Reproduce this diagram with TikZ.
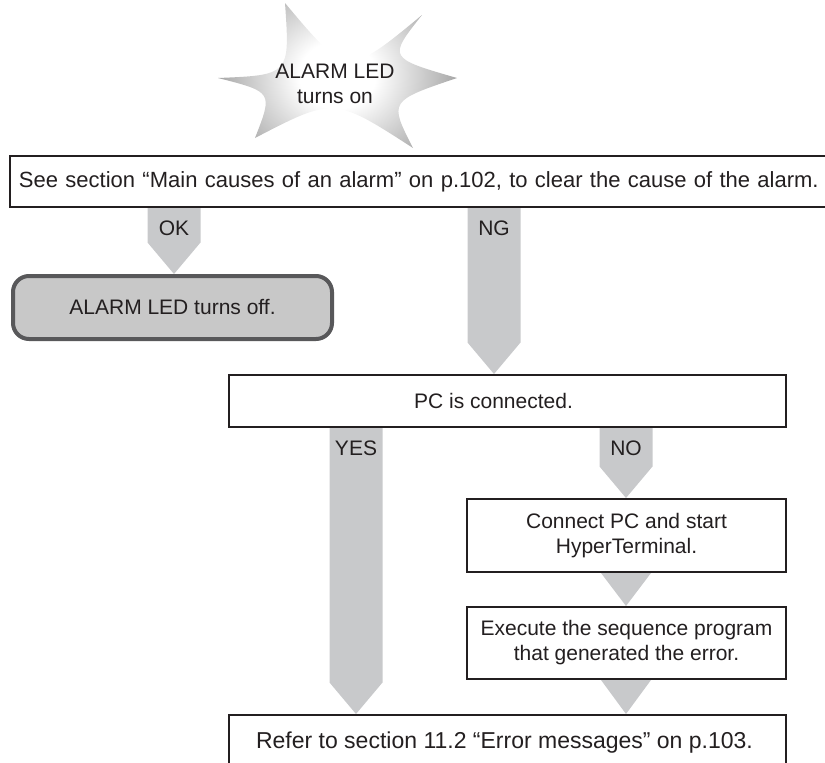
\documentclass[tikz,border=0pt]{standalone}
\usepackage{fontspec}
\setmainfont{Liberation Sans}
\usetikzlibrary{calc}
\definecolor{ink}{RGB}{35,31,32}
\definecolor{arrowgray}{RGB}{200,201,203}
\definecolor{offfill}{RGB}{200,200,200}
\definecolor{offdraw}{RGB}{88,88,90}
\pgfdeclareradialshading{starshade}{\pgfpoint{0bp}{0bp}}{color(0bp)=(white); color(8bp)=(white); color(22bp)=(black!28); color(36bp)=(black!60); color(50bp)=(black!90)}
\pgfdeclarelayer{bg}
\pgfsetlayers{bg,main}
\newcommand{\blockarrow}[5]{%
  \begin{pgfonlayer}{bg}
    \fill[arr] let \p1=(#1 -| #3), \p2=(#2 -| #3) in
      (\x1-26.5pt,\y1) -- (\x1+26.5pt,\y1) -- (\x1+26.5pt,\y2+31.5pt) -- (\x2,\y2) -- (\x1-26.5pt,\y2+31.5pt) -- cycle;
  \end{pgfonlayer}
  \node[lbl] (#4) at ($(#1 -| #3)+(0,20)$) {#5};
}
\newcommand{\headonly}[3]{%
  \begin{pgfonlayer}{bg}
    \fill[arr] let \p1=(#1 -| #3), \p2=(#2 -| #3) in
      (\x1-25pt,\y1) -- (\x1+25pt,\y1) -- (\x2,\y2) -- cycle;
  \end{pgfonlayer}
}
\begin{document}
\begin{tikzpicture}[x=1pt,y=-1pt, font=\fontsize{21}{25}\selectfont, text=ink,
  box/.style={draw=ink, line width=2pt, fill=white, inner sep=0pt, align=center},
  lbl/.style={inner sep=0pt, anchor=center},
  arr/.style={fill=arrowgray}]
\useasboundingbox (0,0) rectangle (825,763);
\clip (0,0) rectangle (825,763);

% starburst
\begin{scope}
  \clip (218,78) .. controls (290,75) .. (285,3)
    .. controls (347,77) .. (422,15)
    .. controls (388,58) .. (457,78)
    .. controls (389,101) .. (413,148)
    .. controls (334,97) .. (255,138)
    .. controls (273,92) .. (218,78) -- cycle;
  \shade[shading=starshade] (218,-30) rectangle (457,180);
\end{scope}
\node[lbl, align=center] (alarm) at (335,84) {ALARM LED\\turns on};

% boxes
\node[box, font=\fontsize{22}{26}\selectfont, anchor=north west, text width=850pt, inner xsep=9pt, minimum height=51pt, align=left] (see) at (9,155)
  {See section “Main causes of an alarm” on p.102, to clear the cause of the alarm.};
\node[box, draw=offdraw, fill=offfill, line width=4pt, rounded corners=16pt, minimum width=319pt, minimum height=63pt] (off) at (172.5,307.5) {ALARM LED turns off.};
\node[box, minimum width=557pt, minimum height=52pt] (pc) at (507.5,401) {PC is connected.\hspace*{28pt}};
\node[box, minimum width=319pt, minimum height=73pt] (conn) at (626.5,535.5) {Connect PC and start\\HyperTerminal.};
\node[box, minimum width=319pt, minimum height=72pt] (exec) at (626.5,643) {Execute the sequence program\\that generated the error.};
\node[box, font=\fontsize{23}{27}\selectfont, anchor=north, minimum width=557pt, minimum height=56pt] (ref) at (507.5,714) {Refer to section 11.2 “Error messages” on p.103.\hspace*{6pt}};

% x positions of the connectors
\coordinate (cOK) at (174,0);
\coordinate (cNG) at (494,0);
\coordinate (cYES) at (356,0);
\coordinate (cNO) at (626,0);

\blockarrow{see.south}{off.north}{cOK}{lok}{OK}
\blockarrow{see.south}{pc.north}{cNG}{lng}{NG}
\blockarrow{pc.south}{ref.north}{cYES}{lyes}{YES}
\blockarrow{pc.south}{conn.north}{cNO}{lno}{NO}
\headonly{conn.south}{exec.north}{cNO}
\headonly{exec.south}{ref.north}{cNO}
\end{tikzpicture}
\end{document}
